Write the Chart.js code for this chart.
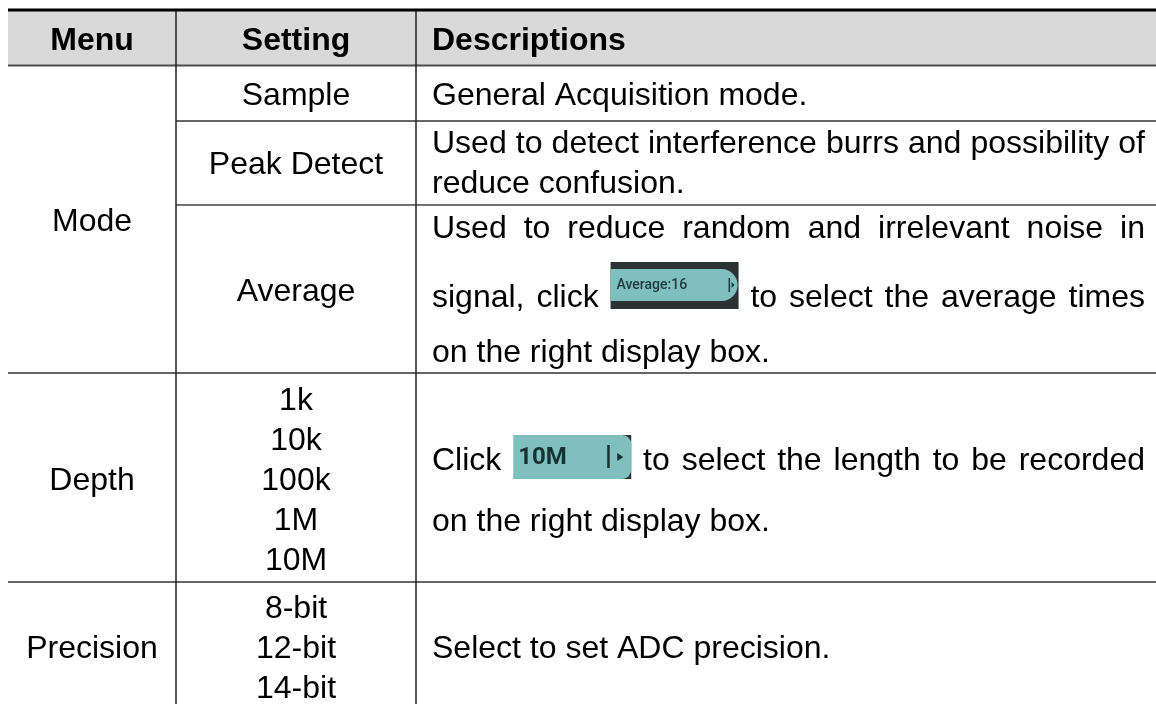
<!DOCTYPE html>
<html>
<head>
<meta charset="utf-8">
<script src="https://cdn.jsdelivr.net/npm/chart.js@4.4.1/dist/chart.umd.min.js"></script>
<style>
  html, body { margin: 0; padding: 0; background: #fff; overflow: hidden; }
  canvas { display: block; }
</style>
</head>
<body>
<canvas id="tabella" width="1156" height="704"></canvas>
<script>
// DATI
const headers = ['Menu', 'Setting', 'Descriptions'];
const menuItems = ['Mode', 'Depth', 'Precision'];
const modeSettings = ['Sample', 'Peak Detect', 'Average'];
const depthSettings = ['1k', '10k', '100k', '1M', '10M'];
const precisionSettings = ['8-bit', '12-bit', '14-bit'];
const sampleDesc = ['General Acquisition mode.'];
const peakDesc = ['Used to detect interference burrs and possibility of', 'reduce confusion.'];
const averageDesc = ['Used to reduce random and irrelevant noise in', 'signal, click {icon} to select the average times', 'on the right display box.'];
const depthDesc = ['Click {icon} to select the length to be recorded', 'on the right display box.'];
const precisionDesc = ['Select to set ADC precision.'];
const iconLabels = ['Average:16', '10M'];

// LAYOUT (coordinate in unità della scala)
const colEdges = [8, 176, 416, 1156];
const descBox = [432, 1145];
const FONT = "'Liberation Sans', Arial, sans-serif";

const canvas = document.getElementById('tabella');

function sx(chart, v) { return chart.scales.x.getPixelForValue(v); }
function sy(chart, v) { return chart.scales.y.getPixelForValue(v); }

// linea orizzontale
function hLine(chart, y, x0, x1, w, color) {
  const ctx = chart.ctx;
  ctx.strokeStyle = color;
  ctx.lineWidth = w;
  ctx.beginPath();
  ctx.moveTo(sx(chart, x0), sy(chart, y));
  ctx.lineTo(sx(chart, x1), sy(chart, y));
  ctx.stroke();
}

function vLine(chart, x, y0, y1, w, color) {
  const ctx = chart.ctx;
  ctx.strokeStyle = color;
  ctx.lineWidth = w;
  ctx.beginPath();
  ctx.moveTo(sx(chart, x), sy(chart, y0));
  ctx.lineTo(sx(chart, x), sy(chart, y1));
  ctx.stroke();
}

// testo centrato in una colonna
function centerText(chart, txt, col, baseline, bold) {
  const ctx = chart.ctx;
  ctx.font = (bold ? 'bold ' : '') + '32px ' + FONT;
  ctx.fillStyle = '#000';
  ctx.textAlign = 'center';
  ctx.textBaseline = 'alphabetic';
  const xc = (sx(chart, colEdges[col]) + sx(chart, colEdges[col + 1])) / 2;
  ctx.fillText(txt, xc, sy(chart, baseline));
}

// icone
function iconSize(idx) {
  return idx === 0 ? { w: 128, h: 47, top: 45 } : { w: 118, h: 44, top: 35 };
}

function drawIcon(chart, idx, x, baseline) {
  const ctx = chart.ctx;
  const s = iconSize(idx);
  const top = baseline - s.top;
  const teal = '#7fc0bf';
  if (idx === 0) {
    ctx.fillStyle = '#2c3133';
    ctx.fillRect(x, top, s.w, s.h);
    ctx.fillStyle = teal;
    ctx.beginPath();
    ctx.roundRect(x, top + 7, s.w - 1, s.h - 15, [0, 16, 16, 0]);
    ctx.fill();
    ctx.fillStyle = '#1f3a3a';
    ctx.font = '500 14px Roboto, ' + FONT;
    ctx.textAlign = 'left';
    ctx.textBaseline = 'middle';
    ctx.fillText(iconLabels[0], x + 6, top + 23);
    ctx.fillRect(x + 118, top + 16, 1.5, 14);
    ctx.beginPath();
    ctx.moveTo(x + 121, top + 20);
    ctx.lineTo(x + 124, top + 23);
    ctx.lineTo(x + 121, top + 26);
    ctx.fill();
  } else {
    ctx.fillStyle = '#2c3133';
    ctx.fillRect(x + s.w - 10, top, 10, s.h);
    ctx.fillStyle = teal;
    ctx.beginPath();
    ctx.roundRect(x, top, s.w, s.h, [0, 9, 9, 0]);
    ctx.fill();
    ctx.fillStyle = '#173232';
    ctx.font = 'bold 24px Roboto, ' + FONT;
    ctx.textAlign = 'left';
    ctx.textBaseline = 'middle';
    ctx.fillText(iconLabels[1], x + 5, top + 23);
    ctx.fillRect(x + 94, top + 10, 2.5, 23);
    ctx.beginPath();
    ctx.moveTo(x + 104, top + 18);
    ctx.lineTo(x + 110, top + 22);
    ctx.lineTo(x + 104, top + 26);
    ctx.fill();
  }
}

// riga di descrizione, giustificata se serve
function descLine(chart, line, baseline, justify, iconIdx) {
  const ctx = chart.ctx;
  ctx.font = '32px ' + FONT;
  const tokens = line.split(' ');
  const widths = tokens.map(t => t === '{icon}' ? iconSize(iconIdx).w : ctx.measureText(t).width);
  const x0 = sx(chart, descBox[0]);
  const x1 = sx(chart, descBox[1]);
  const tot = widths.reduce((a, b) => a + b, 0);
  let gap = ctx.measureText(' ').width;
  if (justify && tokens.length > 1) gap = (x1 - x0 - tot) / (tokens.length - 1);
  let x = x0;
  const by = sy(chart, baseline);
  tokens.forEach((t, i) => {
    if (t === '{icon}') {
      drawIcon(chart, iconIdx, x, by);
    } else {
      ctx.font = '32px ' + FONT;
      ctx.fillStyle = '#000';
      ctx.textAlign = 'left';
      ctx.textBaseline = 'alphabetic';
      ctx.fillText(t, x, by);
    }
    x += widths[i] + gap;
  });
}

function paragraph(chart, lines, baselines, iconIdx) {
  lines.forEach((l, i) => {
    descLine(chart, l, baselines[i], i < lines.length - 1, iconIdx);
  });
}

const tablePlugin = {
  id: 'tabella',
  beforeDraw(chart) {
    const ctx = chart.ctx;
    ctx.save();
    ctx.fillStyle = '#fff';
    ctx.fillRect(0, 0, chart.width, chart.height);

    // intestazione
    ctx.fillStyle = '#d9d9d9';
    ctx.fillRect(sx(chart, colEdges[0]), sy(chart, 11), sx(chart, colEdges[3]) - sx(chart, colEdges[0]), sy(chart, 65) - sy(chart, 11));
    centerText(chart, headers[0], 0, 50, true);
    centerText(chart, headers[1], 1, 50, true);
    ctx.font = 'bold 32px ' + FONT;
    ctx.textAlign = 'left';
    ctx.fillStyle = '#000';
    ctx.fillText(headers[2], sx(chart, descBox[0]), sy(chart, 50));

    // colonna Menu
    centerText(chart, menuItems[0], 0, 231);
    centerText(chart, menuItems[1], 0, 490);
    centerText(chart, menuItems[2], 0, 658);

    // colonna Setting
    const modeBase = [105, 174, 301];
    modeSettings.forEach((t, i) => centerText(chart, t, 1, modeBase[i]));
    depthSettings.forEach((t, i) => centerText(chart, t, 1, 410 + i * 40));
    precisionSettings.forEach((t, i) => centerText(chart, t, 1, 618 + i * 40));

    // descrizioni
    paragraph(chart, sampleDesc, [105]);
    paragraph(chart, peakDesc, [153, 193]);
    paragraph(chart, averageDesc, [238, 307, 362], 0);
    paragraph(chart, depthDesc, [470, 531], 1);
    paragraph(chart, precisionDesc, [658]);

    // griglia
    hLine(chart, 10, colEdges[0], colEdges[3], 3, '#000');
    hLine(chart, 65.5, colEdges[0], colEdges[3], 2, '#4a4a4a');
    hLine(chart, 121, colEdges[1], colEdges[3], 1.5, '#333');
    hLine(chart, 205, colEdges[1], colEdges[3], 1.5, '#444');
    hLine(chart, 373, colEdges[0], colEdges[3], 1.5, '#333');
    hLine(chart, 582, colEdges[0], colEdges[3], 1.5, '#333');
    vLine(chart, colEdges[1], 11, 704, 1.5, '#222');
    vLine(chart, colEdges[2], 11, 704, 1.5, '#222');
    ctx.restore();
  }
};

const chart = new Chart(canvas, {
  type: 'scatter',
  data: { datasets: [] },
  options: {
    responsive: false,
    animation: false,
    events: [],
    layout: { padding: 0 },
    plugins: { legend: { display: false }, tooltip: { enabled: false } },
    scales: {
      x: { type: 'linear', min: 0, max: 1156, display: false },
      y: { type: 'linear', min: 0, max: 704, reverse: true, display: false }
    }
  },
  plugins: [tablePlugin]
});
</script>
</body>
</html>
